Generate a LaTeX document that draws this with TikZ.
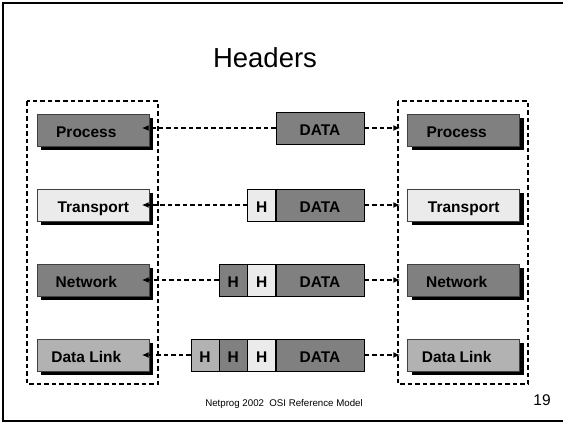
\documentclass[tikz,border=0pt]{standalone}
\usepackage{fontspec}
\setmainfont{Liberation Sans}
\usetikzlibrary{shadows, arrows.meta}

\definecolor{darkgr}{gray}{0.5}
\definecolor{midgr}{gray}{0.7}
\definecolor{lightgr}{gray}{0.92}

\tikzset{
    layer/.style={draw=black!75, line width=0.8pt, minimum width=112pt, minimum height=32pt,
        text height=14.6pt, text depth=0pt,
        font=\bfseries\fontsize{15.5}{15.5}\selectfont,
        drop shadow={shadow xshift=4pt, shadow yshift=-4pt, fill=black, opacity=1}},
    % most layer names sit a little left of the middle
    leftname/.style={execute at begin node={\hspace*{-14pt}}},
    hcell/.style={draw=black, line width=1pt, minimum width=28pt, minimum height=32pt,
        text height=14.6pt, text depth=0pt,
        font=\bfseries\fontsize{15.5}{15.5}\selectfont},
    datacell/.style={hcell, minimum width=88pt, fill=darkgr},
    stack/.style={draw, line width=1.5pt, dash pattern=on 4.5pt off 3pt},
    link/.style={line width=1.5pt, dash pattern=on 4.5pt off 3pt, -{Latex[length=7pt, width=6pt]}}
}

\begin{document}
\begin{tikzpicture}[x=1pt, y=-1pt]

    % Fix the picture size to the slide
    \useasboundingbox (0,0) rectangle (563,424);

    % Slide frame (right edge runs off the page)
    \draw[line width=2pt] (575,3) -| (3,421) -- (575,421);

    % Title
    \node[font=\fontsize{27.5}{27.5}\selectfont] (title) at (265,58) {Headers};

    % Dashed outlines of the two stacks
    \draw[stack] (27,101) rectangle (158,384);
    \draw[stack] (398,101) rectangle (528,384);

    % Layers of the left stack
    \node[layer, leftname, fill=darkgr] (lproc) at (93.3,130) {Process};
    \node[layer, fill=lightgr] (ltrans) at (93.3,205) {Transport};
    \node[layer, leftname, fill=darkgr] (lnet) at (93.3,280) {Network};
    \node[layer, leftname, fill=midgr] (llink) at (93.3,355) {Data Link};

    % Layers of the right stack
    \node[layer, leftname, fill=darkgr] (rproc) at (463.7,130) {Process};
    \node[layer, fill=lightgr] (rtrans) at (463.7,205) {Transport};
    \node[layer, leftname, fill=darkgr] (rnet) at (463.7,280) {Network};
    \node[layer, leftname, fill=midgr] (rlink) at (463.7,355) {Data Link};

    % Packet at the process layer
    \node[datacell] (d1) at (320,128) {DATA};

    % Packet at the transport layer
    \node[datacell] (d2) at (320,205) {DATA};
    \node[hcell, fill=lightgr] (h2a) at (261.7,205) {H};

    % Packet at the network layer
    \node[datacell] (d3) at (320,280) {DATA};
    \node[hcell, fill=lightgr] (h3a) at (261.7,280) {H};
    \node[hcell, fill=darkgr] (h3b) at (233.3,280) {H};

    % Packet at the data link layer
    \node[datacell] (d4) at (320,355) {DATA};
    \node[hcell, fill=lightgr] (h4a) at (261.7,355) {H};
    \node[hcell, fill=darkgr] (h4b) at (233.3,355) {H};
    \node[hcell, fill=midgr] (h4c) at (205,355) {H};

    % Arrows towards the left stack
    \draw[link, shorten >=-8pt] (d1.west) -- (d1.west -| lproc.east);
    \draw[link, shorten >=-8pt] (h2a.west) -- (ltrans.east);
    \draw[link, shorten >=-8pt] (h3b.west) -- (lnet.east);
    \draw[link, shorten >=-8pt] (h4c.west) -- (llink.east);

    % Arrows towards the right stack
    \draw[link, shorten >=7pt] (d1.east) -- (d1.east -| rproc.west);
    \draw[link, shorten >=7pt] (d2.east) -- (rtrans.west);
    \draw[link, shorten >=7pt] (d3.east) -- (rnet.west);
    \draw[link, shorten >=7pt] (d4.east) -- (rlink.west);

    % Footer and slide number
    \node[font=\fontsize{9.7}{9.7}\selectfont] (foot) at (284,404) {Netprog 2002\ \ OSI Reference Model};
    \node[font=\fontsize{15.5}{15.5}\selectfont] (num) at (542,400) {19};

\end{tikzpicture}
\end{document}
